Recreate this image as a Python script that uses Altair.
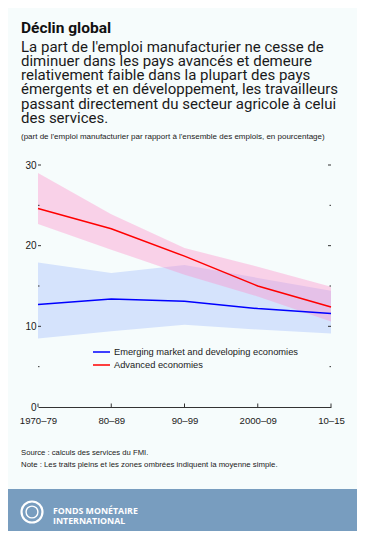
import altair as alt
import pandas as pd

periods = ["1970–79", "80–89", "90–99", "2000–09", "10–15"]
adv_mean = [24.6, 22.1, 18.7, 15.0, 12.4]
adv_hi = [29.0, 23.9, 19.7, 17.4, 14.9]
adv_lo = [22.7, 19.5, 16.4, 13.7, 10.6]
em_mean = [12.7, 13.4, 13.1, 12.2, 11.6]
em_hi = [17.9, 16.6, 17.6, 16.0, 14.4]
em_lo = [8.5, 9.4, 10.2, 9.6, 9.1]
series = ["Emerging market and developing economies", "Advanced economies"]
major_ticks = [10, 20, 30]
minor_ticks = [5, 15, 25]

NARROW = "Liberation Sans Narrow, Arial Narrow, Liberation Sans, sans-serif"
W, H = 293, 242
OX, OY = 38, 165  # page position of plot origin

rows = []
for i, p in enumerate(periods):
    rows.append(dict(period=p, series=series[0], mean=em_mean[i], lo=em_lo[i], hi=em_hi[i]))
    rows.append(dict(period=p, series=series[1], mean=adv_mean[i], lo=adv_lo[i], hi=adv_hi[i]))
df = pd.DataFrame(rows)

xenc = alt.X("period:O", sort=periods,
             scale=alt.Scale(type="point", padding=0),
             axis=alt.Axis(title=None, labelAngle=0, ticks=False, domain=True,
                           domainColor="#333333", domainWidth=1,
                           labelPadding=8, labelFont=NARROW, labelFontSize=9.6,
                           labelColor="#1a1a1a"))
yscale = alt.Scale(domain=[0, 30], nice=False, zero=True)

blue_band = alt.Chart(df[df.series == series[0]]).mark_area(
    color="#D5E3FC", opacity=1).encode(
    x=xenc,
    y=alt.Y("lo:Q", scale=yscale,
            axis=alt.Axis(title=None, values=[0, 10, 20, 30], ticks=False, domain=False,
                          grid=False, labelPadding=2, labelFont=NARROW, labelFontSize=10,
                          labelColor="#1a1a1a")),
    y2="hi:Q")

pink_band = alt.Chart(df[df.series == series[1]]).mark_area(
    color="#FF8CC8", opacity=0.38).encode(
    x=alt.X("period:O", sort=periods), y=alt.Y("lo:Q", scale=yscale), y2="hi:Q")

lines = alt.Chart(df).mark_line(strokeWidth=1.5).encode(
    x=alt.X("period:O", sort=periods),
    y=alt.Y("mean:Q", scale=yscale),
    color=alt.Color("series:N", scale=alt.Scale(domain=series, range=["#0000FF", "#FF0000"]),
                    legend=None),
    detail="series:N")

tick_df = pd.DataFrame({"v": major_ticks})
minor_df = pd.DataFrame({"v": minor_ticks})
tk = "#333333"
lt = alt.Chart(tick_df).mark_rule(color=tk, strokeWidth=1).encode(
    y=alt.Y("v:Q", scale=yscale), x=alt.value(0), x2=alt.value(3))
rt = alt.Chart(tick_df).mark_rule(color=tk, strokeWidth=1).encode(
    y=alt.Y("v:Q", scale=yscale), x=alt.value(W - 3), x2=alt.value(W))
lmt = alt.Chart(minor_df).mark_rule(color=tk, strokeWidth=1).encode(
    y=alt.Y("v:Q", scale=yscale), x=alt.value(0), x2=alt.value(1.5))
rmt = alt.Chart(minor_df).mark_rule(color=tk, strokeWidth=1).encode(
    y=alt.Y("v:Q", scale=yscale), x=alt.value(W - 1.5), x2=alt.value(W))
xt = alt.Chart(pd.DataFrame({"period": periods})).mark_rule(color=tk, strokeWidth=1).encode(
    x=alt.X("period:O", sort=periods), y=alt.value(H), y2=alt.value(H - 3.5))

def txt(text, px, py, size, font="Roboto", weight="normal", color="#1a1a1a", baseline="alphabetic"):
    return alt.Chart(pd.DataFrame({"t": [text]})).mark_text(
        align="left", baseline=baseline, font=font, fontSize=size, fontWeight=weight,
        color=color).encode(x=alt.value(px - OX), y=alt.value(py - OY), text="t:N")

# legend (manual)
leg = []
leg_y = [352, 365]
leg_c = ["#0000FF", "#FF0000"]
for i in range(2):
    leg.append(alt.Chart(pd.DataFrame({"s": [series[i]]})).mark_rule(
        color=leg_c[i], strokeWidth=1.5).encode(
        x=alt.value(93 - OX), x2=alt.value(110 - OX), y=alt.value(leg_y[i] - OY)))
    leg.append(txt(series[i], 114, leg_y[i], 9.3, font=NARROW, baseline="middle"))

title_lines = ["La part de l'emploi manufacturier ne cesse de",
               "diminuer dans les pays avancés et demeure",
               "relativement faible dans la plupart des pays",
               "émergents et en développement, les travailleurs",
               "passant directement du secteur agricole à celui",
               "des services."]
texts = [txt("Déclin global", 21, 32.5, 15.5, weight="bold", color="#111111")]
for i, l in enumerate(title_lines):
    texts.append(txt(l, 21, 51.5 + i * 14.3, 15, color="#1a1a1a"))
texts.append(txt("(part de l'emploi manufacturier par rapport à l'ensemble des emplois, en pourcentage)",
                 21, 139, 8, font=NARROW))
texts.append(txt("Source : calculs des services du FMI.", 21, 454.5, 7.7, font=NARROW))
texts.append(txt("Note : Les traits pleins et les zones ombrées indiquent la moyenne simple.",
                 21, 467, 7.8, font=NARROW))

footer = alt.Chart(pd.DataFrame({"a": [0]})).mark_rect(color="#789DBF").encode(
    x=alt.value(8 - OX), x2=alt.value(357 - OX), y=alt.value(489 - OY), y2=alt.value(531 - OY))
logo1 = alt.Chart(pd.DataFrame({"a": [0]})).mark_point(
    shape="circle", size=440, stroke="white", strokeWidth=2.2, filled=False, opacity=1).encode(
    x=alt.value(32 - OX), y=alt.value(512 - OY))
logo2 = alt.Chart(pd.DataFrame({"a": [0]})).mark_point(
    shape="circle", size=140, stroke="white", strokeWidth=1.4, filled=False, opacity=1).encode(
    x=alt.value(32 - OX), y=alt.value(512 - OY))
ft1 = txt("FONDS MONÉTAIRE", 53, 513.5, 8.8, font="Open Sans", weight="bold", color="white")
ft2 = txt("INTERNATIONAL", 53, 523.8, 8.8, font="Open Sans", weight="bold", color="white")

chart = alt.layer(
    blue_band, pink_band, lines, lt, rt, lmt, rmt, xt, *leg, *texts,
    footer, logo1, logo2, ft1, ft2
).properties(
    width=W, height=H,
    autosize=alt.AutoSizeParams(type="none"),
    padding={"left": OX - 8, "top": OY - 8, "right": 349 - (OX - 8) - W, "bottom": 523 - (OY - 8) - H},
    background="#F6FCFC",
).configure_view(stroke=None)

chart.save("out.html", embed_options={"renderer": "svg", "actions": False})
